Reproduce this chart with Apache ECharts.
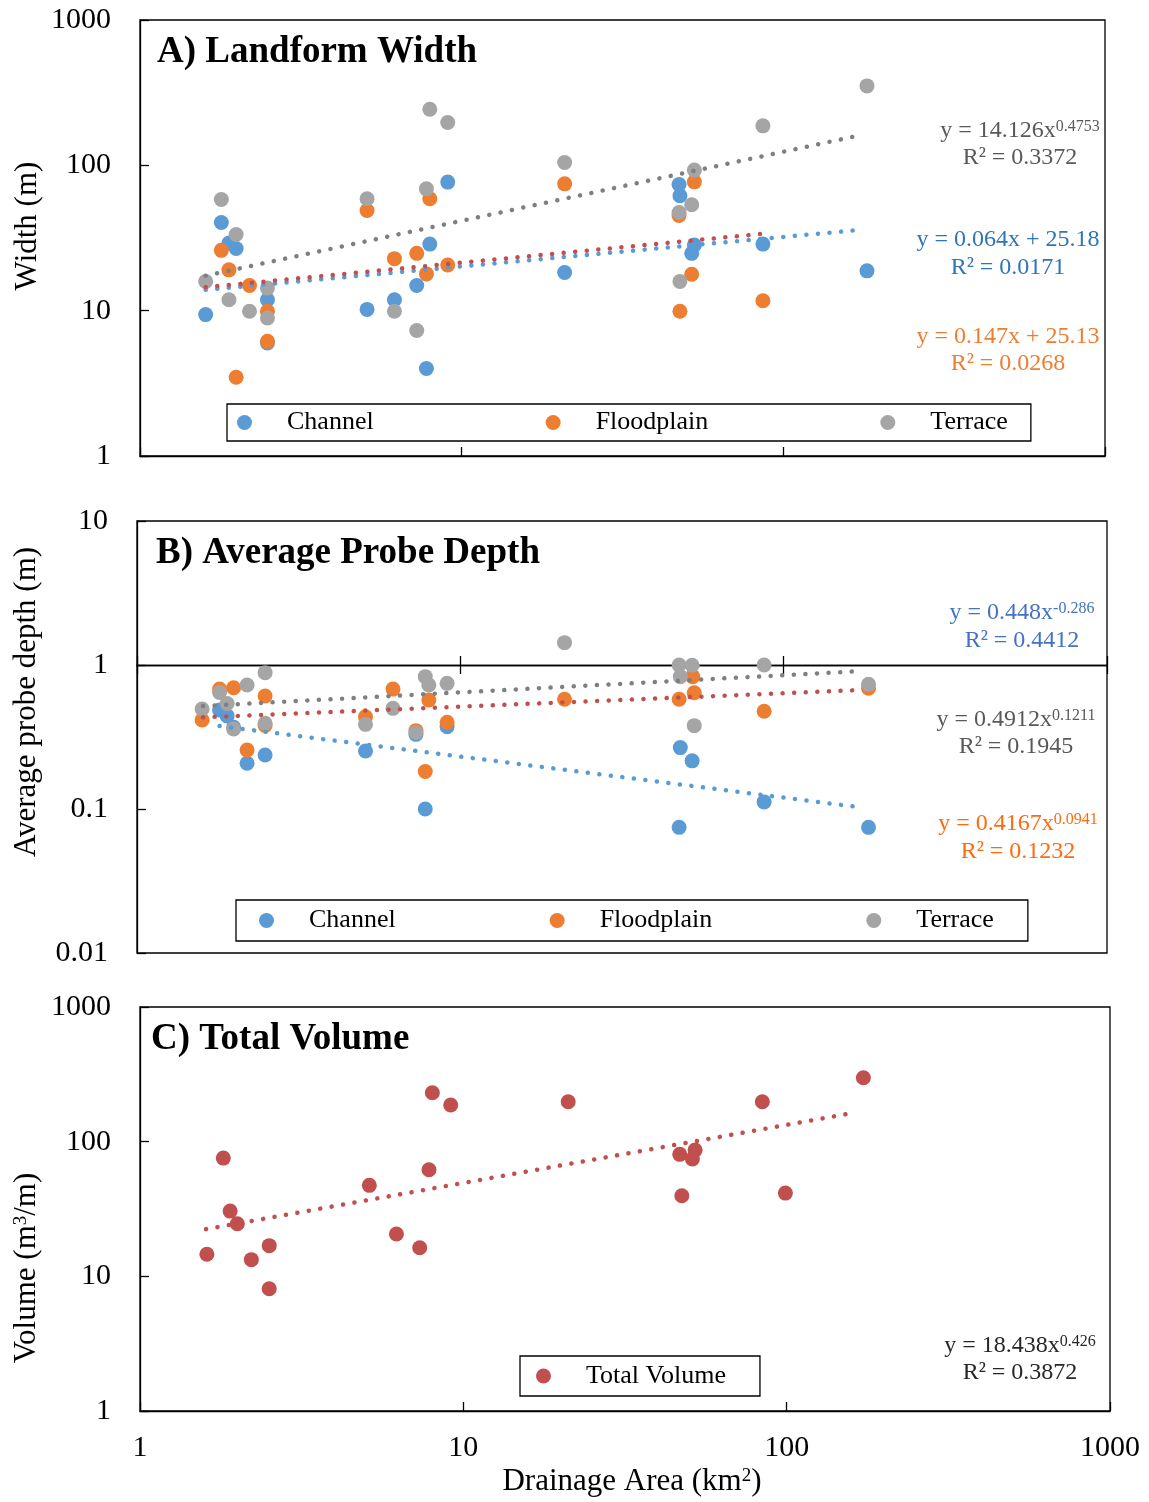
<!DOCTYPE html>
<html>
<head>
<meta charset="utf-8">
<script src="https://cdn.jsdelivr.net/npm/echarts@6/dist/echarts.min.js"></script>
<style>
  html, body { margin: 0; padding: 0; background: #fff; }
  #chart { width: 1149px; height: 1502px; }
</style>
</head>
<body>
<div id="chart"></div>
<script>
// ---- data: [drainage area km2, value] ----
var widthChannel = [[1.60, 9.4], [1.79, 40.4], [1.89, 29.2], [1.99, 26.8], [2.49, 11.9], [2.49, 6.0],
  [5.08, 10.2], [6.18, 11.9], [7.25, 14.9], [7.77, 4.0], [7.96, 28.7], [9.05, 76.7], [20.9, 18.3],
  [47.4, 73.8], [47.7, 61.7], [51.9, 24.8], [52.9, 28.3], [86.4, 28.7], [182, 18.8]];
var widthFloodplain = [[1.79, 26.0], [1.89, 19.1], [1.99, 3.48], [2.19, 14.9], [2.49, 9.9], [2.49, 6.15],
  [5.08, 48.9], [6.18, 22.8], [7.25, 24.8], [7.77, 17.9], [7.96, 58.9], [9.05, 20.6], [20.9, 74.6],
  [47.4, 45.2], [47.7, 9.9], [51.9, 17.8], [52.9, 77], [86.4, 11.7]];
var widthTerrace = [[1.60, 15.9], [1.79, 58.2], [1.89, 11.9], [1.99, 33.4], [2.19, 9.9], [2.49, 14.3],
  [2.49, 8.9], [5.08, 58.9], [6.18, 9.9], [7.25, 7.3], [7.77, 68.9], [7.96, 243], [9.05, 197],
  [20.9, 104.5], [47.4, 47.4], [47.7, 15.9], [51.9, 53.5], [52.9, 92.7], [86.4, 187], [182, 352]];
var widthChannelTrend = [[1.60, 13.9], [174, 36.0]];
var widthFloodplainTrend = [[1.60, 14.5], [86, 33.8]];
var widthTerraceTrend = [[1.60, 17.4], [171, 160]];

var depthChannel = [[1.80, 0.487], [1.90, 0.443], [1.99, 0.37], [2.19, 0.208], [2.49, 0.237],
  [5.09, 0.253], [7.29, 0.33], [7.79, 0.1], [9.10, 0.373], [47.9, 0.267], [52.1, 0.216],
  [47.5, 0.0746], [87, 0.112], [183, 0.0746]];
var depthFloodplain = [[1.59, 0.415], [1.80, 0.68], [1.99, 0.695], [2.19, 0.257], [2.49, 0.609],
  [2.49, 0.38], [5.09, 0.437], [6.19, 0.68], [7.29, 0.35], [7.79, 0.182], [7.99, 0.571], [9.10, 0.40],
  [21.0, 0.578], [47.5, 0.578], [52.3, 0.83], [52.9, 0.642], [87, 0.477], [183, 0.689]];
var depthTerrace = [[1.59, 0.495], [1.80, 0.645], [1.90, 0.54], [1.99, 0.359], [2.19, 0.726],
  [2.49, 0.885], [2.49, 0.394], [5.09, 0.387], [6.19, 0.5], [7.29, 0.34], [7.79, 0.83], [7.99, 0.726],
  [9.10, 0.746], [21.0, 1.43], [47.5, 1.0], [47.9, 0.83], [52.1, 0.995], [52.9, 0.379], [87, 1.0],
  [183, 0.734]];
var depthChannelTrend = [[1.80, 0.377], [171, 0.103]];
var depthFloodplainTrend = [[1.60, 0.433], [175, 0.671]];
var depthTerraceTrend = [[1.60, 0.519], [175, 0.908]];

var volumeTotal = [[1.61, 14.6], [1.81, 75.5], [1.90, 30.5], [2.00, 24.6], [2.21, 13.3], [2.51, 16.9],
  [2.51, 8.09], [5.12, 47.4], [6.21, 20.6], [7.33, 16.3], [7.83, 61.9], [8.02, 231], [9.14, 187],
  [21.1, 198], [46.7, 80.5], [47.4, 39.7], [51.1, 74.3], [52.1, 86.6], [84.1, 198], [99.1, 41.5],
  [172.7, 298]];
var volumeTrend = [[1.60, 22.4], [164, 165]];

var legendNames = ['Channel', 'Floodplain', 'Terrace'];

var FONT = "'Liberation Serif', 'Times New Roman', serif";
var BLUE = '#5B9BD5', ORANGE = '#ED7D31', GRAY = '#A5A5A5', RED = '#C0504D';

var chart = echarts.init(document.getElementById('chart'));

function fmt(v) { return String(+(+v).toPrecision(4)); }

function xAxisCfg(grid, extra) {
  var a = {
    type: 'log', logBase: 10, min: 1, max: 1000, gridIndex: grid,
    axisLine: { show: true, onZero: false, lineStyle: { color: '#000', width: 1.3 } },
    axisTick: { show: true, inside: true, length: 9, lineStyle: { color: '#000', width: 1.3 } },
    axisLabel: { show: false },
    splitLine: { show: false }, minorTick: { show: false }
  };
  for (var k in extra) a[k] = extra[k];
  return a;
}
function yAxisCfg(grid, min, max) {
  return {
    type: 'log', logBase: 10, min: min, max: max, gridIndex: grid,
    axisLine: { show: true, onZero: false, lineStyle: { color: '#000', width: 1.3 } },
    axisTick: { show: true, inside: true, length: 9, lineStyle: { color: '#000', width: 1.3 } },
    axisLabel: { show: true, margin: 29, color: '#000', fontSize: 30, fontFamily: FONT, formatter: fmt },
    splitLine: { show: false }, minorTick: { show: false }
  };
}
function scatter(name, data, color, xi, yi) {
  return { name: name, type: 'scatter', data: data, xAxisIndex: xi, yAxisIndex: yi,
    symbolSize: 15, itemStyle: { color: color, opacity: 1 }, silent: true };
}
function trend(data, color, xi, yi) {
  return { type: 'line', data: data, xAxisIndex: xi, yAxisIndex: yi, showSymbol: false, silent: true,
    lineStyle: { color: color, width: 4.5, type: [0.1, 11.5], cap: 'round' }, z: 3 };
}
function legendCfg(names, left, top, gap, pad) {
  return {
    data: names, left: left, top: top, orient: 'horizontal', itemGap: gap, icon: 'circle',
    itemWidth: 15, itemHeight: 15, padding: pad, borderColor: '#000', borderWidth: 1.3,
    backgroundColor: '#fff', selectedMode: false,
    textStyle: { fontFamily: FONT, fontSize: 26, color: '#000', padding: [0, 0, 0, 30] }
  };
}
function eq(x, y, color, main, sup) {
  var t = sup ? '{n|' + main + '}{s|' + sup + '}' : '{n|' + main + '}';
  return { type: 'text', x: x, y: y, z: 100, style: {
    text: t, align: 'center', verticalAlign: 'middle', fill: color,
    rich: { n: { fontSize: 24, fontFamily: FONT, fill: color, verticalAlign: 'bottom' },
            s: { fontSize: 16, fontFamily: FONT, fill: color, verticalAlign: 'top' } } } };
}
function plain(x, y, text, size, weight, rot) {
  return { type: 'text', x: x, y: y, rotation: rot || 0, z: 100, style: {
    text: text, align: rot ? 'center' : 'left', verticalAlign: 'middle', fill: '#000',
    fontSize: size, fontWeight: weight, fontFamily: FONT,
    rich: { n: { fontSize: size, fontFamily: FONT, verticalAlign: 'bottom' },
            s: { fontSize: 19, fontFamily: FONT, verticalAlign: 'top' } } } };
}

var gridBase = { show: true, borderColor: '#000', borderWidth: 1.3, backgroundColor: '#fff',
  containLabel: false, outerBoundsMode: 'none' };
function grid(l, t, w, h) {
  var g = {}; for (var k in gridBase) g[k] = gridBase[k];
  g.left = l; g.top = t; g.width = w; g.height = h; return g;
}

var option = {
  animation: false,
  backgroundColor: '#fff',
  grid: [grid(140, 20, 965, 436), grid(137, 521, 970, 432), grid(140, 1007, 970, 404)],
  xAxis: [
    xAxisCfg(0, {}),
    xAxisCfg(1, { position: 'bottom', offset: -288 }),
    xAxisCfg(1, { position: 'top', offset: -144 }),
    xAxisCfg(2, { axisLabel: { show: true, margin: 22, color: '#000', fontSize: 30, fontFamily: FONT, formatter: fmt } })
  ],
  yAxis: [yAxisCfg(0, 1, 1000), yAxisCfg(1, 0.01, 10), yAxisCfg(2, 1, 1000)],
  legend: [
    legendCfg(legendNames, 227, 404, 172, [5.5, 23, 5.5, 10]),
    legendCfg(legendNames, 236, 900, 154, [7.5, 34, 7.5, 23]),
    legendCfg(['Total Volume'], 520, 1356, 10, [7, 34, 7, 16])
  ],
  series: [
    scatter('Channel', widthChannel, BLUE, 0, 0),
    scatter('Floodplain', widthFloodplain, ORANGE, 0, 0),
    scatter('Terrace', widthTerrace, GRAY, 0, 0),
    trend(widthChannelTrend, BLUE, 0, 0),
    trend(widthFloodplainTrend, RED, 0, 0),
    trend(widthTerraceTrend, '#7F7F7F', 0, 0),

    scatter('Channel', depthChannel, BLUE, 1, 1),
    scatter('Floodplain', depthFloodplain, ORANGE, 1, 1),
    scatter('Terrace', depthTerrace, GRAY, 1, 1),
    trend(depthChannelTrend, BLUE, 1, 1),
    trend(depthFloodplainTrend, RED, 1, 1),
    trend(depthTerraceTrend, '#7F7F7F', 1, 1),

    scatter('Total Volume', volumeTotal, RED, 3, 2),
    trend(volumeTrend, RED, 3, 2)
  ],
  graphic: [
    plain(157, 52, 'A) Landform Width', 37, 'bold'),
    plain(156, 553, 'B) Average Probe Depth', 37, 'bold'),
    plain(151, 1039, 'C) Total Volume', 37, 'bold'),
    plain(28, 226, 'Width (m)', 31, 'normal', Math.PI / 2),
    plain(27, 702, 'Average probe depth (m)', 31, 'normal', Math.PI / 2),
    plain(27, 1268, '{n|Volume (m}{s|3}{n|/m)}', 31, 'normal', Math.PI / 2),
    { type: 'text', x: 632, y: 1482, z: 100, style: { text: '{n|Drainage Area (km}{s|2}{n|)}',
      align: 'center', verticalAlign: 'middle', fill: '#000',
      rich: { n: { fontSize: 31, fontFamily: FONT, verticalAlign: 'bottom' },
              s: { fontSize: 19, fontFamily: FONT, verticalAlign: 'top' } } } },

    eq(1020, 131, '#595959', 'y = 14.126x', '0.4753'),
    eq(1020, 158, '#595959', 'R² = 0.3372'),
    eq(1008, 240, '#2E75B6', 'y = 0.064x + 25.18'),
    eq(1008, 268, '#2E75B6', 'R² = 0.0171'),
    eq(1008, 337, '#ED7D31', 'y = 0.147x + 25.13'),
    eq(1008, 364, '#ED7D31', 'R² = 0.0268'),

    eq(1022, 613, '#4472C4', 'y = 0.448x', '-0.286'),
    eq(1022, 641, '#4472C4', 'R² = 0.4412'),
    eq(1016, 720, '#595959', 'y = 0.4912x', '0.1211'),
    eq(1016, 747, '#595959', 'R² = 0.1945'),
    eq(1018, 824, '#FF6A0D', 'y = 0.4167x', '0.0941'),
    eq(1018, 852, '#FF6A0D', 'R² = 0.1232'),

    eq(1020, 1346, '#262626', 'y = 18.438x', '0.426'),
    eq(1020, 1373, '#262626', 'R² = 0.3872')
  ]
};
chart.setOption(option);
</script>
</body>
</html>
